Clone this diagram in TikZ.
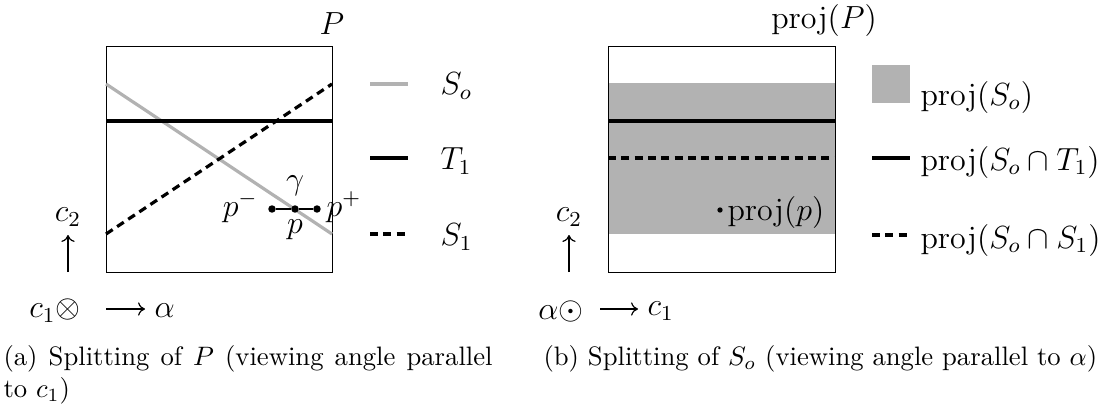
\documentclass[tikz,border=0pt]{standalone}
\usetikzlibrary{arrows.meta}
\begin{document}
\begin{tikzpicture}[x=0.375pt,y=-0.375pt,
  frame/.style={draw=black,line width=0.35pt},
  grayln/.style={draw=black!30,line width=1.2pt},
  solidln/.style={draw=black,line width=1.2pt},
  dashln/.style={draw=black,line width=1.2pt,dash pattern=on 3pt off 2pt},
  pt/.style={circle,fill=black,inner sep=0pt,minimum size=2.8pt},
  smallpt/.style={circle,fill=black,inner sep=0pt,minimum size=2pt},
  lbl/.style={inner sep=0pt,font=\fontsize{11.5pt}{14pt}\selectfont},
  captext/.style={inner sep=0pt,font=\fontsize{10pt}{12pt}\selectfont},
  axarrow/.style={line width=0.45pt,-{Computer Modern Rightarrow[width=5pt,length=2.6pt]}},
  band/.style={fill=black!30,draw=none}]
\useasboundingbox (0,0) rectangle (1108,411);
% ---------- left panel ----------
\coordinate (A1) at (106,46); \coordinate (A2) at (332,272);
\draw[frame] (A1) rectangle (A2);
\coordinate (g1) at (106,84);  \coordinate (g2) at (332,234);
\coordinate (t1) at (106,121); \coordinate (t2) at (332,121);
\coordinate (s1) at (106,234); \coordinate (s2) at (332,84);
\draw[grayln] (g1) -- (g2);
\draw[solidln] (t1) -- (t2);
\draw[dashln] (s1) -- (s2);
\node[lbl,anchor=base] (Plab) at (332,34) {$P$};
\node[pt] (pm) at (272,209) {};
\node[pt] (p0) at (295,209) {};
\node[pt] (pp) at (317,209) {};
\draw[line width=0.5pt] (pm) -- (p0) -- (pp);
\node[lbl,anchor=east] (pmlab) at (258,207) {$p^-$};
\node[lbl,anchor=west] (pplab) at (326,207) {$p^+$};
\node[lbl] (glab) at (295,186) {$\gamma$};
\node[lbl] (plab) at (295,230) {$p$};
% legend left
\coordinate (la1) at (370,84);  \coordinate (la2) at (408,84);
\coordinate (lb1) at (370,158); \coordinate (lb2) at (408,158);
\coordinate (lc1) at (370,234); \coordinate (lc2) at (408,234);
\draw[grayln] (la1) -- (la2);
\draw[solidln] (lb1) -- (lb2);
\draw[dashln] (lc1) -- (lc2);
\node[lbl,anchor=west] (So) at (440,86) {$S_o$};
\node[lbl,anchor=west] (T1) at (440,161) {$T_1$};
\node[lbl,anchor=west] (S1) at (440,237) {$S_1$};
% axes left
\node[lbl] (c2a) at (68,217) {$c_2$};
\coordinate (ua1) at (68,272); \coordinate (ua2) at (68,235);
\draw[axarrow] (ua1) -- (ua2);
\node[lbl,anchor=east] (c1o) at (81,311) {$c_1\otimes$};
\coordinate (ha1) at (106,309); \coordinate (ha2) at (145,309);
\draw[axarrow] (ha1) -- (ha2);
\node[lbl,anchor=west] (alab) at (154,311) {$\alpha$};
% caption a
\node[captext,anchor=north west,align=left] (capa) at (3,345)
  {\makebox[183.4pt][s]{(a) Splitting of $P$ (viewing angle parallel}\\to $c_1$)};
% ---------- right panel ----------
\coordinate (B1) at (608,46); \coordinate (B2) at (835,272);
\fill[band] (608,83) rectangle (835,234);
\draw[frame] (B1) rectangle (B2);
\coordinate (u1) at (608,121); \coordinate (u2) at (835,121);
\coordinate (v1) at (608,158); \coordinate (v2) at (835,158);
\draw[solidln] (u1) -- (u2);
\draw[dashln] (v1) -- (v2);
\node[lbl,anchor=base] (projP) at (824,28) {$\mathrm{proj}(P)$};
\node[smallpt] (pdot) at (720,210) {};
\node[lbl,anchor=west] (projp) at (727,212) {$\mathrm{proj}(p)$};
% legend right
\fill[band] (872,65) rectangle (910,103);
\coordinate (ma1) at (872,158); \coordinate (ma2) at (910,158);
\coordinate (mb1) at (872,235); \coordinate (mb2) at (910,235);
\draw[solidln] (ma1) -- (ma2);
\draw[dashln] (mb1) -- (mb2);
\node[lbl,anchor=west] (pSo) at (920,97) {$\mathrm{proj}(S_o)$};
\node[lbl,anchor=west] (pSoT) at (920,162) {$\mathrm{proj}(S_o\cap T_1)$};
\node[lbl,anchor=west] (pSoS) at (920,240) {$\mathrm{proj}(S_o\cap S_1)$};
% axes right
\node[lbl] (c2b) at (569,217) {$c_2$};
\coordinate (ub1) at (569,272); \coordinate (ub2) at (569,235);
\draw[axarrow] (ub1) -- (ub2);
\node[lbl,anchor=east] (aod) at (584,311) {$\alpha\odot$};
\coordinate (hb1) at (600,309); \coordinate (hb2) at (638,309);
\draw[axarrow] (hb1) -- (hb2);
\node[lbl,anchor=west] (c1b) at (647,311) {$c_1$};
% caption b
\node[captext,anchor=north west,align=left] (capb) at (543,345)
  {(b) Splitting of $S_o$ (viewing angle parallel to $\alpha$)};
\end{tikzpicture}
\end{document}
